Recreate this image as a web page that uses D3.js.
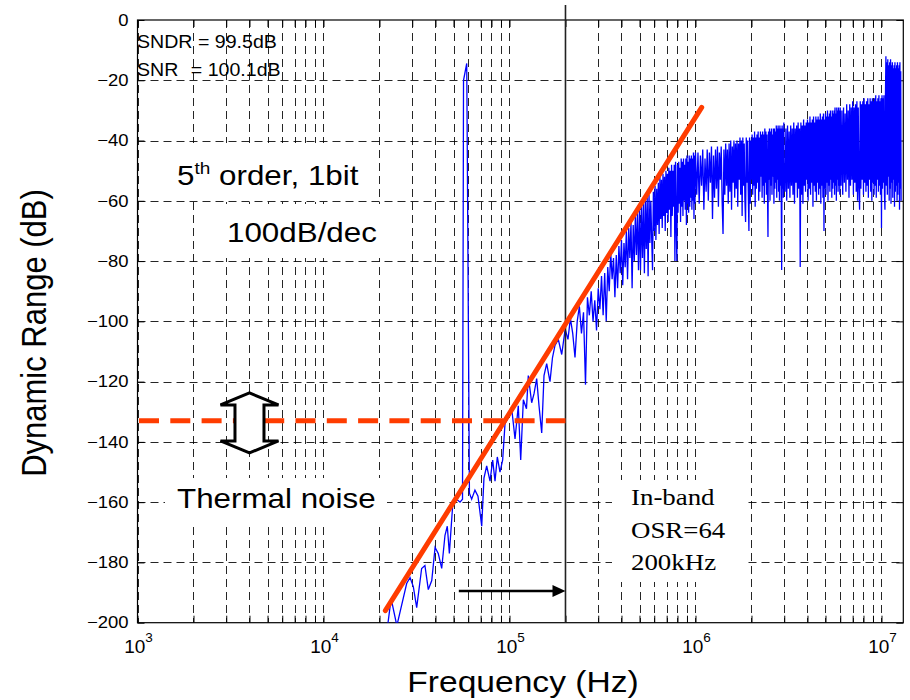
<!DOCTYPE html>
<html>
<head>
<meta charset="utf-8">
<script src="https://cdn.jsdelivr.net/npm/d3@7"></script>
<style>
  body { margin: 0; background: #fff; }
  svg { display: block; }
</style>
</head>
<body>
<svg id="chart" width="910" height="700"></svg>
<script>
// ---------------- data ----------------
// axis ticks
const xMajorExponents = [3, 4, 5, 6, 7];
const yTickValues = [0, -20, -40, -60, -80, -100, -120, -140, -160, -180, -200];

// sparse low-frequency part of the output spectrum (kHz, dB)
const lowFreqKHz = [18.9, 21.7, 23.1, 24.8, 28.0, 29.2, 30.4, 31.7, 33.7, 35.1,
  36.6, 38.2, 39.8, 41.4, 43.2, 45.0, 46.3, 47.5, 49.5, 52.0,
  54.2, 55.9, 56.6, 58.9, 60.9, 62.6, 65.2, 67.7, 70.9, 72.9,
  75.4, 78.6, 81.2, 83.6, 86.0, 88.9, 91.9, 94.6, 98.5, 102.8,
  107.1, 111.5, 114.9, 118.7, 123.4, 126.2, 131.6, 135.5, 140.0, 144.1,
  149.0, 153.3, 158.5, 165.1, 170.3, 175.6, 183.0, 190.9, 198.8];
const lowLevelDb = [-206, -205, -192, -201, -187, -185, -188, -195, -182, -181,
  -189, -186, -175, -177, -182, -171, -168, -177, -161, -159,
  -160, -159, -20, -14.4, -157, -159, -156, -158, -168, -152,
  -148, -153, -146, -153, -145, -150, -146, -134, -132, -129,
  -139, -128, -146, -126, -129, -118, -127, -124, -119, -128,
  -137, -118, -114, -120, -112, -108, -106, -111, -103];

// denser bands on evenly spaced FFT bins (start kHz, step kHz, levels dB)
const bandAStartKHz = 200, bandAStepKHz = 6.25;
const bandALevelDb = [-103, -106, -99, -104, -112, -100, -95, -104, -97, -121,
  -92, -98, -90, -100, -93, -103, -89, -96, -85, -98,
  -84, -100, -82, -90, -77, -86, -79, -92, -78, -89,
  -75, -84, -73, -88, -74, -82, -70, -86, -69, -79,
  -67, -89, -68, -80, -65, -78, -64, -83, -63];

const bandBStartKHz = 506.25, bandBStepKHz = 6.25;
const bandBLevelDb = [-83, -62, -79, -61, -84, -60, -76, -59,
  -85, -58, -74, -60, -72, -83, -57, -70,
  -55, -73, -56, -68, -54, -71, -52, -66,
  -53, -69, -51, -65, -52, -70, -50, -64,
  -51, -67, -49, -63, -50, -72, -48, -65,
  -50, -62, -48, -80, -47, -66, -80, -48,
  -64, -47, -61, -49, -67, -46, -62, -47,
  -65, -46, -60, -48, -63, -46, -68, -45,
  -61, -47, -64, -45, -62, -46, -59, -45,
  -63, -46, -60, -44, -66, -45, -61, -44];

const bandCStartKHz = 1015.625, bandCStepKHz = 15.625;
const bandCLevelDb = [-58, -44, -61, -45, -55, -43, -63, -46,
  -57, -43, -60, -44, -54, -42, -66, -45,
  -59, -43, -56, -42, -62, -44, -53, -42,
  -60, -71, -43, -58, -41, -55, -43, -61,
  -41, -57, -40, -63, -42, -54, -40, -59,
  -41, -56, -40, -62, -41, -53, -39, -58,
  -40, -65, -39, -55, -41, -60, -67, -39,
  -54, -40, -57, -70, -39, -61, -40, -53,
  -38, -58, -39, -55, -37, -62, -39, -56,
  -38, -54, -37, -60, -39, -57, -37, -52,
  -38, -59, -37, -55, -38, -61, -36, -54,
  -37, -58, -38, -56, -72, -37, -53, -36,
  -60, -37, -55, -36, -58, -38, -52, -36,
  -61, -36, -56, -37, -54, -35, -59, -36,
  -53, -35, -57, -36, -60, -35, -55, -36,
  -58, -83, -35, -56, -36, -59, -34, -55];

const bandDStartKHz = 3031.25, bandDStepKHz = 31.25;
const bandDLevelDb = [-57, -36, -60, -35, -56, -37, -59, -35,
  -55, -36, -58, -34, -61, -36, -54, -35,
  -59, -34, -56, -36, -82, -34, -58, -35,
  -61, -33, -55, -35, -57, -34, -53, -33,
  -60, -34, -56, -32, -58, -34, -54, -33,
  -62, -32, -55, -34, -57, -32, -60, -33,
  -54, -32, -58, -33, -56, -31, -61, -33,
  -55, -32, -59, -31, -70, -33, -56, -31,
  -58, -32, -54, -30, -60, -32, -55, -31,
  -57, -30, -53, -32, -59, -30, -56, -31,
  -54, -30, -58, -29, -55, -31, -60, -29,
  -53, -30, -57, -29, -55, -30, -58, -29];

const bandEStartKHz = 6062.5, bandEStepKHz = 62.5;
const bandELevelDb = [-55, -30, -58, -29, -54, -31, -57, -28, -53,
  -30, -59, -28, -55, -29, -53, -27, -58, -29,
  -54, -28, -57, -27, -60, -29, -55, -63, -27,
  -56, -28, -53, -27, -58, -26, -54, -28, -57,
  -27, -55, -26, -59, -28, -53, -26, -57, -27,
  -60, -26, -54, -27, -58, -26, -55, -25, -59,
  -27, -53, -26, -57, -25, -55, -27, -58, -26,
  -69, -25, -56, -26, -54, -25, -58, -63, -26,
  -12, -55, -14, -58, -13, -52, -15, -60, -14,
  -56, -13, -61, -15, -54, -14, -59, -16, -53,
  -15, -62, -14, -57, -16, -55, -15, -60, -14,
  -58, -16, -54, -15, -63, -14, -56, -17, -60];

// annotations
const thermalNoiseDb = -133;
const inBandEdgeHz = 200e3;
const slopeLineHz = [21.5e3, 1.08e6];
const slopeLineDb = [-196, -29];
const bandArrowHz = [53.4e3, 200e3];
const bandArrowDb = -189.5;
const dualArrowHz = 4.0e3;
const dualArrowDb = -133.7;

// ---------------- layout ----------------
const plot = { left: 137.5, right: 903.3, top: 20, bottom: 622.7 };
const textStretch = 1.12;
const red = "#ff3c00";
const sans = "'Liberation Sans', Arial, sans-serif";
const serif = "'Liberation Serif', 'Times New Roman', serif";

const svg = d3.select("#chart");
const x = d3.scaleLog().domain([1e3, 1.31e7]).range([plot.left, plot.right]);
const y = d3.scaleLinear().domain([-200, 0]).range([plot.bottom, plot.top]);

// assemble spectrum points
const spectrum = lowFreqKHz.map((f, i) => ({ f: f * 1e3, db: lowLevelDb[i] }));
[[bandAStartKHz, bandAStepKHz, bandALevelDb],
 [bandBStartKHz, bandBStepKHz, bandBLevelDb],
 [bandCStartKHz, bandCStepKHz, bandCLevelDb],
 [bandDStartKHz, bandDStepKHz, bandDLevelDb],
 [bandEStartKHz, bandEStepKHz, bandELevelDb]].forEach(([start, step, levels]) => {
  levels.forEach((db, i) => spectrum.push({ f: (start + i * step) * 1e3, db }));
});

svg.append("defs").append("clipPath").attr("id", "plotClip")
  .append("rect")
  .attr("x", plot.left).attr("y", plot.top)
  .attr("width", plot.right - plot.left).attr("height", plot.bottom - plot.top);

svg.append("rect").attr("width", 910).attr("height", 700).attr("fill", "#fff");

// ---------------- grid ----------------
const xTicksAll = x.ticks().filter(v => v >= 1e3 && v <= 1.31e7);
const grid = svg.append("g").attr("stroke", "#000").attr("stroke-width", 1)
  .attr("stroke-dasharray", "8,5").attr("stroke-opacity", 0.85);
grid.selectAll("line.gx").data(xTicksAll).join("line").attr("class", "gx")
  .attr("x1", d => Math.round(x(d)) + 0.5).attr("x2", d => Math.round(x(d)) + 0.5)
  .attr("y1", plot.top).attr("y2", plot.bottom);
grid.selectAll("line.gy").data(yTickValues.filter(v => v > -200 && v < 0)).join("line").attr("class", "gy")
  .attr("x1", plot.left).attr("x2", plot.right)
  .attr("y1", d => Math.round(y(d)) + 0.5).attr("y2", d => Math.round(y(d)) + 0.5);

// white panels behind the annotation texts
const panels = [
  [165, 143, 212, 55],
  [197, 204, 190, 54],
  [165, 478, 222, 48],
  [612, 480, 134, 102]
];
svg.append("g").selectAll("rect").data(panels).join("rect")
  .attr("x", d => d[0]).attr("y", d => d[1]).attr("width", d => d[2]).attr("height", d => d[3])
  .attr("fill", "#fff");

// ---------------- axes ----------------
const fmtMinus = d => d === 0 ? "0" : "\u2212" + Math.abs(d);
const axisLeft = svg.append("g").attr("transform", `translate(${plot.left},0)`)
  .call(d3.axisLeft(y).tickValues(yTickValues).tickSizeInner(-7).tickSizeOuter(0)
    .tickPadding(8).tickFormat(fmtMinus));
const axisRight = svg.append("g").attr("transform", `translate(${plot.right},0)`)
  .call(d3.axisRight(y).tickValues(yTickValues).tickSizeInner(-7).tickSizeOuter(0).tickFormat(""));
const axisBottom = svg.append("g").attr("transform", `translate(0,${plot.bottom})`)
  .call(d3.axisBottom(x).tickValues(xTicksAll).tickSizeInner(-7).tickSizeOuter(0).tickFormat(""));
const axisTop = svg.append("g").attr("transform", `translate(0,${plot.top})`)
  .call(d3.axisTop(x).tickValues(xTicksAll).tickSizeInner(-7).tickSizeOuter(0).tickFormat(""));
[axisLeft, axisRight, axisBottom, axisTop].forEach(g => {
  g.select(".domain").remove();
  g.selectAll(".tick line").attr("stroke", "#000").attr("stroke-width", 1);
});
axisLeft.selectAll(".tick text")
  .attr("font-family", sans).attr("font-size", 16.5)
  .attr("fill", "#000")
  .attr("transform", `scale(${textStretch},1)`);

// x tick labels as powers of ten
const xLab = svg.append("g").attr("font-family", sans).attr("fill", "#000");
xMajorExponents.forEach(e => {
  const t = xLab.append("text")
    .attr("transform", `translate(${x(Math.pow(10, e)) + 1},653)`)
    .attr("text-anchor", "middle").attr("font-size", 19);
  t.append("tspan").text("10");
  t.append("tspan").attr("font-size", 13.5).attr("dy", -11).text(e);
});

// plot frame
svg.append("rect")
  .attr("x", plot.left).attr("y", plot.top)
  .attr("width", plot.right - plot.left).attr("height", plot.bottom - plot.top)
  .attr("fill", "none").attr("stroke", "#000").attr("stroke-width", 1.2);

// ---------------- series ----------------
const dataLayer = svg.append("g").attr("clip-path", "url(#plotClip)");
dataLayer.append("path")
  .datum(spectrum)
  .attr("fill", "none").attr("stroke", "#0000ff").attr("stroke-width", 1.3)
  .attr("stroke-linejoin", "miter")
  .attr("d", d3.line().x(d => x(d.f)).y(d => y(d.db)));

// in-band edge
svg.append("line")
  .attr("x1", x(inBandEdgeHz)).attr("x2", x(inBandEdgeHz))
  .attr("y1", 5).attr("y2", plot.bottom)
  .attr("stroke", "#222").attr("stroke-width", 1.6);

// thermal noise floor
svg.append("line")
  .attr("x1", plot.left + 1.5).attr("x2", x(inBandEdgeHz))
  .attr("y1", y(thermalNoiseDb)).attr("y2", y(thermalNoiseDb))
  .attr("stroke", red).attr("stroke-width", 5).attr("stroke-dasharray", "20,11.3");

// 100 dB/dec noise-shaping slope
svg.append("line")
  .attr("x1", x(slopeLineHz[0])).attr("y1", y(slopeLineDb[0]))
  .attr("x2", x(slopeLineHz[1])).attr("y2", y(slopeLineDb[1]))
  .attr("stroke", red).attr("stroke-width", 5).attr("stroke-linecap", "round");

// in-band arrow
const ax0 = x(bandArrowHz[0]), ax1 = x(bandArrowHz[1]), ay = y(bandArrowDb);
svg.append("line").attr("x1", ax0).attr("x2", ax1 - 8).attr("y1", ay).attr("y2", ay)
  .attr("stroke", "#000").attr("stroke-width", 2.5);
svg.append("path")
  .attr("d", `M${ax1},${ay} L${ax1 - 13},${ay - 6} L${ax1 - 13},${ay + 6} Z`)
  .attr("fill", "#000");

// double-headed block arrow around the noise floor
const dcx = x(dualArrowHz), dcy = y(dualArrowDb);
const dualPts = [[0, -30], [29, -18], [14.5, -18], [14.5, 18], [29, 18], [0, 30],
  [-29, 18], [-14.5, 18], [-14.5, -18], [-29, -18]];
svg.append("path")
  .attr("d", "M" + dualPts.map(p => `${dcx + p[0]},${dcy + p[1]}`).join(" L") + " Z")
  .attr("fill", "#fff").attr("stroke", "#000").attr("stroke-width", 3)
  .attr("stroke-linejoin", "miter");

// ---------------- texts ----------------
function stretchedText(x0, y0, size, family) {
  return svg.append("text")
    .attr("transform", `translate(${x0},${y0}) scale(${textStretch},1)`)
    .attr("font-family", family || sans)
    .attr("font-size", size).attr("fill", "#000");
}

stretchedText(137, 47.5, 17.5).text("SNDR = 99.5dB");
const snr = stretchedText(137, 75.5, 17.5);
snr.append("tspan").text("SNR");
snr.append("tspan").attr("x", 48).text("= 100.1dB");

const order = stretchedText(177, 185, 28);
order.append("tspan").text("5");
order.append("tspan").attr("font-size", 17).attr("dy", -11).text("th");
order.append("tspan").attr("dy", 11).text(" order, 1bit");

stretchedText(227, 242, 28).text("100dB/dec");
stretchedText(177, 508, 28).text("Thermal noise");

stretchedText(631, 505, 24, serif).text("In-band");
stretchedText(631, 538, 24, serif).text("OSR=64");
stretchedText(631, 570, 24, serif).text("200kHz");

// axis titles
svg.append("text")
  .attr("transform", "translate(523,692) scale(1.12,1)")
  .attr("text-anchor", "middle")
  .attr("font-family", sans).attr("font-size", 30)
  .text("Frequency (Hz)");
svg.append("text")
  .attr("transform", "translate(46,333) scale(1.12,1) rotate(-90)")
  .attr("text-anchor", "middle")
  .attr("font-family", sans).attr("font-size", 31)
  .text("Dynamic Range (dB)");
</script>
</body>
</html>
